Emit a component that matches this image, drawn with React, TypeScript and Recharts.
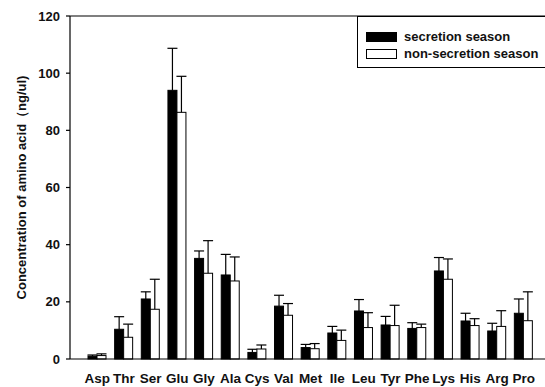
import React from 'react';
import { BarChart, Bar, XAxis, YAxis, ReferenceLine, Legend } from 'recharts';

const aminoAcids = ['Asp', 'Thr', 'Ser', 'Glu', 'Gly', 'Ala', 'Cys', 'Val', 'Met', 'Ile', 'Leu', 'Tyr', 'Phe', 'Lys', 'His', 'Arg', 'Pro'];
const secretion = [1.0, 10.4, 21.0, 94.0, 35.2, 29.4, 2.3, 18.5, 4.0, 9.1, 16.8, 11.9, 10.7, 30.8, 13.3, 9.8, 16.0];
const secretionErr = [0.4, 4.4, 2.5, 14.7, 2.6, 7.2, 1.1, 3.8, 1.1, 2.3, 4.0, 3.0, 2.0, 4.7, 2.7, 2.7, 5.0];
const nonSecretion = [1.2, 7.6, 17.4, 86.3, 30.0, 27.3, 3.5, 15.3, 3.6, 6.5, 11.0, 11.7, 11.0, 27.9, 11.7, 11.4, 13.4];
const nonSecretionErr = [0.6, 4.6, 10.5, 12.6, 11.4, 8.4, 1.4, 4.1, 1.8, 3.6, 5.2, 7.1, 1.2, 7.1, 2.4, 5.5, 10.1];
const yTicks = [0, 20, 40, 60, 80, 100, 120];
const legendItems = [
  { name: 'secretion season', fill: '#000' },
  { name: 'non-secretion season', fill: '#fff' },
];

const FONT = '"Liberation Sans", Arial, sans-serif';

const data = aminoAcids.map((name, i) => ({
  name,
  sec: secretion[i],
  secErr: secretionErr[i],
  non: nonSecretion[i],
  nonErr: nonSecretionErr[i],
}));

// bar with an upward-only error bar (pixels per unit taken from the bar itself)
const barWithError = (errKey: string, valKey: string) => (props: any) => {
  const { x, y, width, height, fill, payload } = props;
  const v = payload[valKey];
  const e = payload[errKey];
  const pxPerUnit = v > 0 ? height / v : 0;
  const cx = x + width / 2;
  const top = y - e * pxPerUnit;
  return (
    <g>
      <rect x={x} y={y} width={width} height={height} fill={fill} stroke="#000" strokeWidth={1} />
      <line x1={cx} y1={y} x2={cx} y2={top} stroke="#000" strokeWidth={1.2} />
      <line x1={cx - 5} y1={top} x2={cx + 5} y2={top} stroke="#000" strokeWidth={1.2} />
    </g>
  );
};

const LegendBox = () => (
  <div
    style={{
      width: 200,
      height: 52,
      border: '1.5px solid #000',
      background: '#fff',
      boxSizing: 'border-box',
      paddingTop: 11,
      paddingLeft: 8,
      fontFamily: FONT,
      fontWeight: 'bold',
      fontSize: 13,
      color: '#111',
    }}
  >
    {legendItems.map((p, i) => (
      <div key={i} style={{ display: 'flex', alignItems: 'center', height: 17 }}>
        <span
          style={{
            display: 'inline-block',
            width: 31,
            height: 10,
            boxSizing: 'border-box',
            background: p.fill,
            border: '1px solid #000',
            marginRight: 7,
          }}
        />
        <span>{p.name}</span>
      </div>
    ))}
  </div>
);

const YLabel = ({ viewBox }: any) => {
  const cy = viewBox.y + viewBox.height / 2;
  return (
    <text
      x={21}
      y={cy}
      transform={`rotate(-90, 21, ${cy})`}
      textAnchor="middle"
      dominantBaseline="central"
      fontFamily={FONT}
      fontWeight="bold"
      fontSize={13}
      fill="#111"
    >
      Concentration of amino acid（ng/ul)
    </text>
  );
};

export default function App() {
  return (
    <div style={{ position: 'fixed', left: 0, top: 0, width: 545, height: 387, overflow: 'hidden', background: '#fff' }}>
      <BarChart
        width={560}
        height={387}
        data={data}
        margin={{ top: 16, right: 15, bottom: 0, left: 8 }}
        barSize={9}
        barGap={0}
      >
        <XAxis
          dataKey="name"
          interval={0}
          tickLine={false}
          tickSize={0}
          tickMargin={14}
          height={28}
          padding={{ left: 14, right: 8 }}
          axisLine={{ stroke: '#000', strokeWidth: 1.2 }}
          tick={{ fontFamily: FONT, fontWeight: 'bold', fontSize: 13.5, fill: '#111' }}
        />
        <YAxis
          width={62}
          domain={[0, 120]}
          ticks={yTicks}
          tickSize={4}
          tickMargin={6}
          axisLine={{ stroke: '#000', strokeWidth: 1.2 }}
          tickLine={{ stroke: '#000', strokeWidth: 1.2 }}
          tick={{ fontFamily: FONT, fontWeight: 'bold', fontSize: 13, fill: '#111' }}
          label={<YLabel />}
        />
        <ReferenceLine y={120} stroke="#000" strokeWidth={1.2} />
        <Bar dataKey="sec" name="secretion season" fill="#000" isAnimationActive={false} shape={barWithError('secErr', 'sec')} />
        <Bar dataKey="non" name="non-secretion season" fill="#fff" isAnimationActive={false} shape={barWithError('nonErr', 'non')} />
        <Legend
          layout="horizontal"
          verticalAlign="middle"
          align="center"
          content={<LegendBox />}
          wrapperStyle={{ position: 'absolute', left: 357, top: 16, width: 200, height: 52 }}
        />
      </BarChart>
    </div>
  );
}
